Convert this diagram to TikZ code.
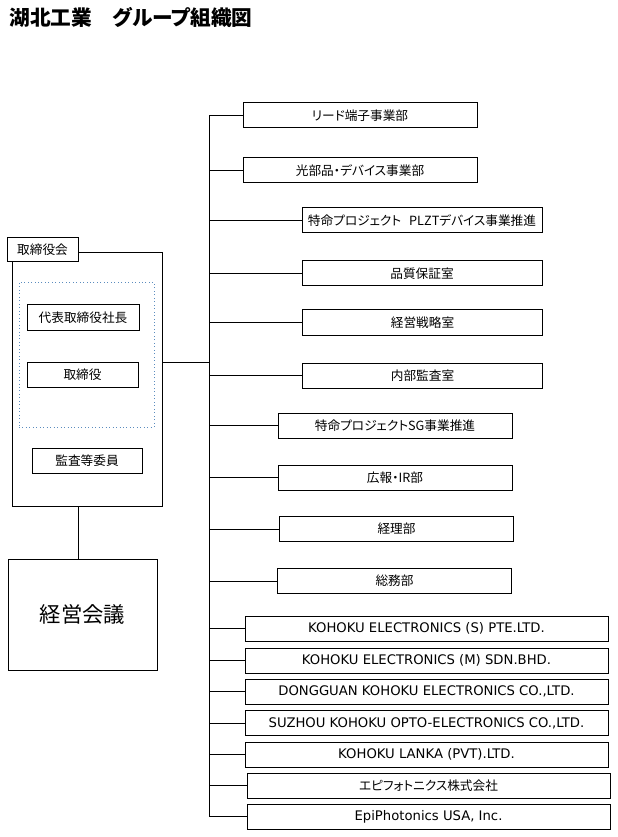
\documentclass[tikz,border=0pt]{standalone}
\usepackage{fontspec}
\setmainfont{Noto Sans CJK JP}[RawFeature=+palt]
\newfontfamily\latinfont{DejaVu Sans}
\begin{document}
\begin{tikzpicture}[x=0.75pt, y=-0.75pt, line width=0.75pt,
		unit/.style={draw, fill=white, inner sep=0pt, minimum height=18.75pt, font=\fontsize{9.5pt}{11pt}\selectfont},
		dept/.style={unit, minimum width=175.5pt},
		wide/.style={unit, minimum width=180pt},
		firm/.style={unit, minimum width=272.25pt, font=\latinfont\fontsize{9.9pt}{11pt}\selectfont},
		dots/.style={draw={rgb,255:red,91;green,140;blue,190}, dotted, line width=0.6pt}]
		
		\useasboundingbox (0,0) rectangle (617,837);
		
		\node[anchor=west, inner sep=0pt, font=\bfseries\fontsize{15.5pt}{18pt}\selectfont] (title) at (9,17) {湖北工業　グループ組織図};
		
		\node[draw, minimum width=112.5pt, minimum height=189.75pt] (board) at (87,379.5) {};
		\node[unit, minimum width=53.25pt, minimum height=18pt] (lbl) at (42.5,250) {取締役会};
		\node[dots, minimum width=101.25pt, minimum height=108.75pt] (exec) at (86.5,354.5) {};
		\node[unit, minimum width=84pt] (ceo) at (83,317.5) {代表取締役社長};
		\node[unit, minimum width=83.25pt] (dir) at (82.5,374.5) {取締役};
		\node[unit, minimum width=82.5pt] (audit) at (87,460.5) {監査等委員};
		\node[draw, minimum width=111.75pt, minimum height=83.25pt, font=\fontsize{16pt}{19pt}\selectfont] (mtg) at (82.5,614.5) {経営会議};
		
		\node[dept] (d1) at (360,115.5) {リード端子事業部};
		\node[dept] (d2) at (360,170.5) {光部品・デバイス事業部};
		\node[wide] (d3) at (422,220.5) {特命プロジェクト\hspace{6pt}PLZTデバイス事業推進};
		\node[wide] (d4) at (422,273.5) {品質保証室};
		\node[wide] (d5) at (422.5,322.5) {経営戦略室};
		\node[wide] (d6) at (422.5,375.5) {内部監査室};
		\node[dept] (d7) at (395,425.5) {特命プロジェクトSG事業推進};
		\node[dept] (d8) at (395,477.5) {広報・IR部};
		\node[dept] (d9) at (396.5,529) {経理部};
		\node[dept] (d10) at (394.5,581) {総務部};
		
		\node[firm] (c1) at (426.5,628.5) {KOHOKU ELECTRONICS (S) PTE.LTD.};
		\node[firm] (c2) at (426.5,660.5) {KOHOKU ELECTRONICS (M) SDN.BHD.};
		\node[firm] (c3) at (426.5,691.5) {DONGGUAN KOHOKU ELECTRONICS CO.,LTD.};
		\node[firm] (c4) at (426.5,723) {SUZHOU KOHOKU OPTO-ELECTRONICS CO.,LTD.};
		\node[firm] (c5) at (426.5,754.5) {KOHOKU LANKA (PVT).LTD.};
		\node[firm, font=\fontsize{9.5pt}{11pt}\selectfont] (c6) at (428.5,785.5) {エピフォトニクス株式会社};
		\node[firm] (c7) at (428.5,816.5) {EpiPhotonics USA, Inc.};
		
		\coordinate (trunk) at (209.5,0);
		\coordinate (join) at (162,362);
		
		\draw (d1.west) -- (d1.west -| trunk) -- (c7.west -| trunk) -- (c7.west);
		\foreach \n in {d2,d3,d4,d5,d6,d7,d8,d9,d10,c1,c2,c3,c4,c5,c6}
			\draw (\n.west) -- (\n.west -| trunk);
		\draw (join) -- (join -| trunk);
		\draw (board.south -| lbl.east) -- (mtg.north -| lbl.east);
		
\end{tikzpicture}
\end{document}
